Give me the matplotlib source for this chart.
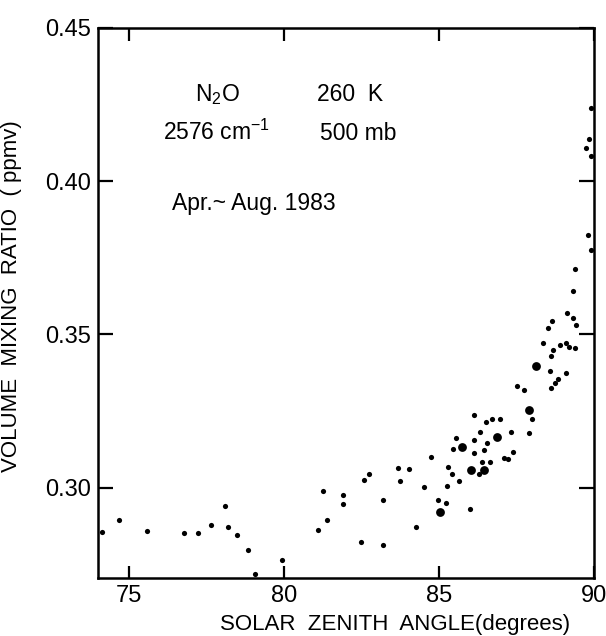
import matplotlib
matplotlib.use("Agg")
import matplotlib.pyplot as plt

plt.rcParams['font.family'] = ['Liberation Sans', 'DejaVu Sans']
plt.rcParams['mathtext.fontset'] = 'custom'
plt.rcParams['mathtext.rm'] = 'Liberation Sans'
plt.rcParams['mathtext.it'] = 'Liberation Sans:italic'

# solar zenith angle (deg) and N2O mixing ratio (ppmv)
sza_small = [74.12, 74.69, 75.57, 76.77, 77.22, 77.65, 78.11, 78.20, 78.48, 78.85,
             79.06, 79.94, 81.11, 81.26, 81.40, 81.91, 81.91,
             82.48, 82.57, 82.74, 83.19, 83.20, 83.67, 83.73, 84.02, 84.26, 84.51,
             84.73, 84.97, 85.23, 85.27, 85.30, 85.43, 85.44, 85.55, 85.65, 86.01,
             86.12, 86.13, 86.13, 86.30, 86.31, 86.39, 86.44, 86.51, 86.56, 86.65,
             86.70, 86.98, 87.10, 87.24, 87.31, 87.40, 87.50, 87.73, 87.91, 88.01,
             88.60, 88.73, 88.84, 88.57, 89.11, 88.61, 88.69, 88.35, 88.89, 89.11,
             89.20, 89.38, 88.52, 88.65, 89.12, 89.32, 89.41, 89.32, 89.40, 89.80,
             89.91, 89.73, 89.89, 89.83, 89.90]
vmr_small = [0.2856, 0.2894, 0.2858, 0.2853, 0.2853, 0.2878, 0.2941, 0.2870, 0.2845, 0.2797,
             0.2717, 0.2765, 0.2861, 0.2988, 0.2895, 0.2977, 0.2948,
             0.2824, 0.3024, 0.3045, 0.2958, 0.2814, 0.3063, 0.3020, 0.3062, 0.2871, 0.3002,
             0.3101, 0.2961, 0.2951, 0.3004, 0.3068, 0.3045, 0.3125, 0.3161, 0.3020, 0.2931,
             0.3238, 0.3157, 0.3112, 0.3045, 0.3182, 0.3083, 0.3124, 0.3213, 0.3144, 0.3083,
             0.3224, 0.3225, 0.3097, 0.3095, 0.3181, 0.3116, 0.3330, 0.3317, 0.3179, 0.3223,
             0.3325, 0.3343, 0.3355, 0.3381, 0.3374, 0.3428, 0.3449, 0.3472, 0.3465, 0.3471,
             0.3459, 0.3455, 0.3521, 0.3543, 0.3571, 0.3552, 0.3530, 0.3642, 0.3712, 0.3825,
             0.3776, 0.4107, 0.4081, 0.4137, 0.4240]

# larger symbols
sza_big = [85.03, 85.74, 86.02, 86.44, 86.88, 87.91, 88.14]
vmr_big = [0.2921, 0.3133, 0.3057, 0.3059, 0.3166, 0.3253, 0.3396]

xticks = [75, 80, 85, 90]
yticks = [0.30, 0.35, 0.40, 0.45]

fig = plt.figure(figsize=(6.06, 6.36), dpi=100)
ax = fig.add_axes([98 / 606, 1 - 578 / 636, 496 / 606, 550 / 636])

ax.scatter(sza_small, vmr_small, s=14, color='black', linewidths=0, clip_on=True)
ax.scatter(sza_big, vmr_big, s=40, color='black', linewidths=0, clip_on=True)

ax.set_xlim(74, 90)
ax.set_ylim(0.2705, 0.45)
ax.set_xticks(xticks)
ax.set_yticks(yticks)
ax.set_yticklabels(['%.2f' % v for v in yticks])

for s in ax.spines.values():
    s.set_linewidth(1.8)
ax.tick_params(axis='both', direction='in', length=9, width=1.6,
               labelsize=17, top=True, right=True, pad=5)
ax.tick_params(axis='y', which='major', length=11)

ax.set_xlabel('SOLAR  ZENITH  ANGLE(degrees)', fontsize=16)
ax.xaxis.set_label_coords(0.598, -0.065)
ax.set_ylabel('VOLUME  MIXING  RATIO  ( ppmv)', fontsize=16)
ax.yaxis.set_label_coords(-0.153, 0.513)

fs = 16.5
ax.text(77.13, 0.4261, r'N$_\mathregular{2}$O', fontsize=fs, va='baseline')
ax.text(81.06, 0.4261, '260  K', fontsize=fs, va='baseline')
ax.text(76.10, 0.4134, r'2576 cm$^\mathregular{-1}$', fontsize=fs, va='baseline')
ax.text(81.16, 0.4134, '500 mb', fontsize=fs, va='baseline')
ax.text(76.39, 0.3905, 'Apr.~ Aug. 1983', fontsize=fs, va='baseline')

fig.savefig('out.png', dpi=100)
